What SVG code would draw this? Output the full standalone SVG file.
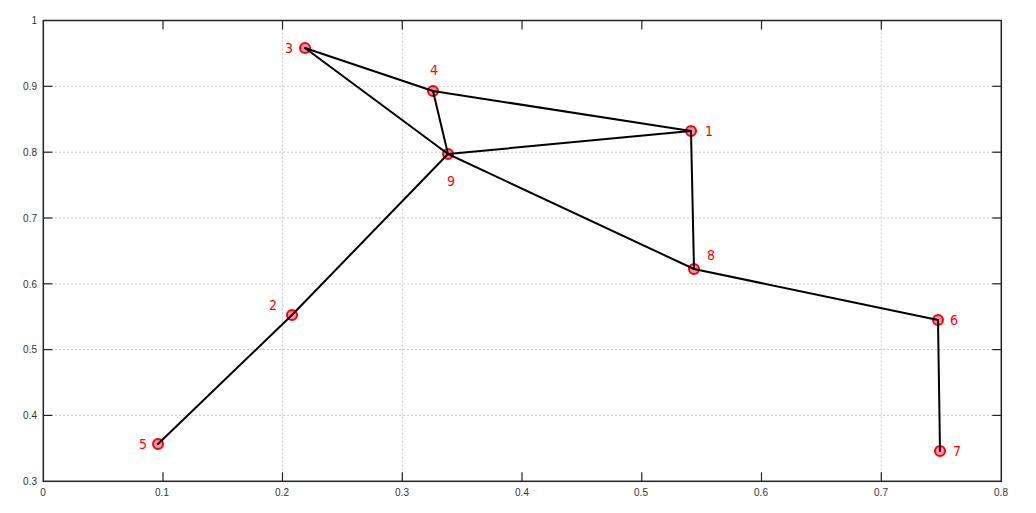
<svg xmlns="http://www.w3.org/2000/svg" width="1036" height="513" viewBox="0 0 1036 513">
<style>
.grid{stroke:#c8c8c8;stroke-width:1;stroke-dasharray:2,2;fill:none}
.axis{stroke:#222;stroke-width:1.5;fill:none}
.tick{stroke:#222;stroke-width:1.2}
.tl{font-family:"Liberation Sans",Arial,sans-serif;font-size:10px;fill:#333}
.edge{stroke:#000;stroke-width:2;fill:none;stroke-linecap:round}
.node circle{fill:#f78fb0;stroke:#ff0000;stroke-width:2}
.node text{font-family:"DejaVu Sans Condensed","DejaVu Sans",sans-serif;font-stretch:condensed;font-size:14px;fill:#ff0000}
</style>
<rect width="1036" height="513" fill="#fff"/>
<g id="grid">
<line class="grid" x1="43" y1="86.3" x2="1001" y2="86.3"/>
<line class="grid" x1="43" y1="152.2" x2="1001" y2="152.2"/>
<line class="grid" x1="43" y1="218" x2="1001" y2="218"/>
<line class="grid" x1="43" y1="283.8" x2="1001" y2="283.8"/>
<line class="grid" x1="43" y1="349.6" x2="1001" y2="349.6"/>
<line class="grid" x1="43" y1="415.4" x2="1001" y2="415.4"/>
<line class="grid" x1="282.5" y1="20.5" x2="282.5" y2="481.3"/>
<line class="grid" x1="402.3" y1="20.5" x2="402.3" y2="481.3"/>
<line class="grid" x1="881.3" y1="20.5" x2="881.3" y2="481.3"/>
</g>
<g id="axes">
<rect class="axis" x="43.3" y="20.5" width="958" height="460.8"/>
<g class="tick">
<line x1="43.3" y1="86.3" x2="52.3" y2="86.3"/><line x1="1001.3" y1="86.3" x2="992.3" y2="86.3"/>
<line x1="43.3" y1="152.2" x2="52.3" y2="152.2"/><line x1="1001.3" y1="152.2" x2="992.3" y2="152.2"/>
<line x1="43.3" y1="218" x2="52.3" y2="218"/><line x1="1001.3" y1="218" x2="992.3" y2="218"/>
<line x1="43.3" y1="283.8" x2="52.3" y2="283.8"/><line x1="1001.3" y1="283.8" x2="992.3" y2="283.8"/>
<line x1="43.3" y1="349.6" x2="52.3" y2="349.6"/><line x1="1001.3" y1="349.6" x2="992.3" y2="349.6"/>
<line x1="43.3" y1="415.4" x2="52.3" y2="415.4"/><line x1="1001.3" y1="415.4" x2="992.3" y2="415.4"/>
<line x1="163" y1="20.5" x2="163" y2="29.5"/><line x1="163" y1="481.3" x2="163" y2="472.3"/>
<line x1="282.5" y1="20.5" x2="282.5" y2="29.5"/><line x1="282.5" y1="481.3" x2="282.5" y2="472.3"/>
<line x1="402.3" y1="20.5" x2="402.3" y2="29.5"/><line x1="402.3" y1="481.3" x2="402.3" y2="472.3"/>
<line x1="522" y1="20.5" x2="522" y2="29.5"/><line x1="522" y1="481.3" x2="522" y2="472.3"/>
<line x1="641.8" y1="20.5" x2="641.8" y2="29.5"/><line x1="641.8" y1="481.3" x2="641.8" y2="472.3"/>
<line x1="761.5" y1="20.5" x2="761.5" y2="29.5"/><line x1="761.5" y1="481.3" x2="761.5" y2="472.3"/>
<line x1="881.3" y1="20.5" x2="881.3" y2="29.5"/><line x1="881.3" y1="481.3" x2="881.3" y2="472.3"/>
</g>
<g class="tl" text-anchor="end">
<text x="37" y="24">1</text>
<text x="37" y="90">0.9</text>
<text x="37" y="156">0.8</text>
<text x="37" y="222">0.7</text>
<text x="37" y="288">0.6</text>
<text x="37" y="353">0.5</text>
<text x="37" y="419">0.4</text>
<text x="37" y="485">0.3</text>
</g>
<g class="tl" text-anchor="middle">
<text x="43" y="496">0</text>
<text x="162" y="496">0.1</text>
<text x="282" y="496">0.2</text>
<text x="402" y="496">0.3</text>
<text x="522" y="496">0.4</text>
<text x="641" y="496">0.5</text>
<text x="761" y="496">0.6</text>
<text x="881" y="496">0.7</text>
<text x="1001" y="496">0.8</text>
</g>
</g>
<g id="node1" class="node"><circle cx="691" cy="131" r="5"/><text x="705" y="136">1</text></g>
<g id="node2" class="node"><circle cx="292" cy="315" r="5"/><text x="269" y="310">2</text></g>
<g id="node3" class="node"><circle cx="305" cy="48" r="5"/><text x="285" y="53">3</text></g>
<g id="node4" class="node"><circle cx="433" cy="91" r="5"/><text x="430" y="75">4</text></g>
<g id="node5" class="node"><circle cx="158" cy="444" r="5"/><text x="139" y="449">5</text></g>
<g id="node6" class="node"><circle cx="938" cy="320" r="5"/><text x="950" y="325">6</text></g>
<g id="node7" class="node"><circle cx="940" cy="451" r="5"/><text x="953" y="456">7</text></g>
<g id="node8" class="node"><circle cx="694" cy="269" r="5"/><text x="707" y="260">8</text></g>
<g id="node9" class="node"><circle cx="448" cy="154" r="5"/><text x="447" y="186">9</text></g>
<g id="connectors">
<line class="edge" x1="305" y1="48" x2="433" y2="91"/>
<line class="edge" x1="305" y1="48" x2="448" y2="154"/>
<line class="edge" x1="433" y1="91" x2="448" y2="154"/>
<line class="edge" x1="433" y1="91" x2="691" y2="131"/>
<line class="edge" x1="448" y1="154" x2="691" y2="131"/>
<line class="edge" x1="691" y1="131" x2="694" y2="269"/>
<line class="edge" x1="448" y1="154" x2="694" y2="269"/>
<line class="edge" x1="448" y1="154" x2="292" y2="315"/>
<line class="edge" x1="292" y1="315" x2="158" y2="444"/>
<line class="edge" x1="694" y1="269" x2="938" y2="320"/>
<line class="edge" x1="938" y1="320" x2="940" y2="451"/>
</g>
</svg>
